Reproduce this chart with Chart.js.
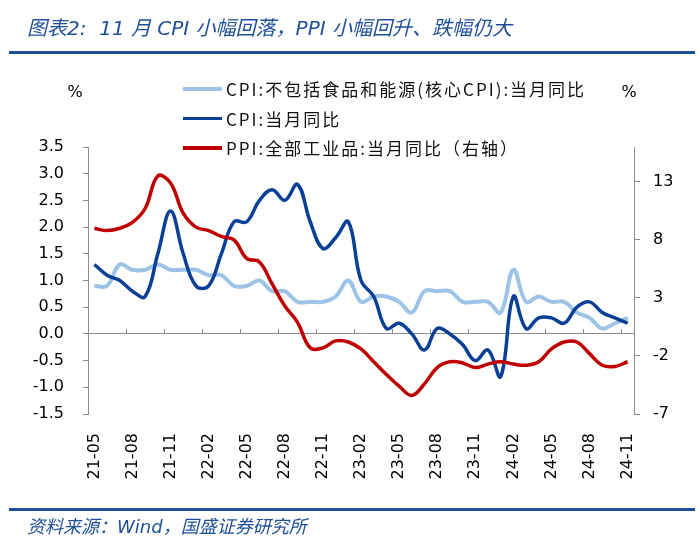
<!DOCTYPE html>
<html>
<head>
<meta charset="utf-8">
<script src="https://cdn.jsdelivr.net/npm/chart.js@4"></script>
<style>
  html, body { margin: 0; padding: 0; background: #fff; }
  #page { position: relative; width: 700px; height: 547px; overflow: hidden; }
  #chart { position: absolute; left: 0; top: 0; }
  .title, .source {
    position: absolute; left: 27px; color: #1f4f99; font-style: italic; white-space: nowrap;
    font-family: "DejaVu Sans", "Noto Sans CJK SC", sans-serif;
  }
  .title { top: 12px; font-size: 20px; }
  .source { top: 512px; font-size: 18px; }
  .rule { position: absolute; left: 9px; width: 686px; height: 3px; background: #1f4f99; }
  .unit { position: absolute; top: 82px; font: 16px "DejaVu Sans", sans-serif; color: #000; transform: translateX(-50%); }
  #legend { position: absolute; left: 183px; top: 74px; }
  .item { display: flex; align-items: center; height: 29.5px; }
  .swatch { width: 39px; height: 3.5px; margin-right: 4px; }
  .label { font: 17px "Noto Sans CJK SC", sans-serif; letter-spacing: 2px; color: #111; white-space: nowrap; }
</style>
</head>
<body>
<div id="page">
  <canvas id="chart" width="700" height="547"></canvas>
  <div class="title">图表2:&nbsp; 11 月 CPI 小幅回落，PPI 小幅回升、跌幅仍大</div>
  <div class="rule" style="top:51px"></div>
  <div class="unit" style="left:75px">%</div>
  <div class="unit" style="left:629px">%</div>
  <div id="legend"></div>
  <div class="rule" style="top:508px"></div>
  <div class="source">资料来源：Wind，国盛证券研究所</div>
</div>
<script>
var months = [
  '21-05', '21-06', '21-07', '21-08', '21-09', '21-10', '21-11', '21-12',
  '22-01', '22-02', '22-03', '22-04', '22-05', '22-06', '22-07', '22-08', '22-09', '22-10', '22-11', '22-12',
  '23-01', '23-02', '23-03', '23-04', '23-05', '23-06', '23-07', '23-08', '23-09', '23-10', '23-11', '23-12',
  '24-01', '24-02', '24-03', '24-04', '24-05', '24-06', '24-07', '24-08', '24-09', '24-10', '24-11'
];
var coreCpi = [
  0.9, 0.9, 1.3, 1.2, 1.2, 1.3, 1.2, 1.2,
  1.2, 1.1, 1.1, 0.9, 0.9, 1.0, 0.8, 0.8, 0.6, 0.6, 0.6, 0.7,
  1.0, 0.6, 0.7, 0.7, 0.6, 0.4, 0.8, 0.8, 0.8, 0.6, 0.6, 0.6,
  0.4, 1.2, 0.6, 0.7, 0.6, 0.6, 0.4, 0.3, 0.1, 0.2, 0.3
];
var cpi = [
  1.3, 1.1, 1.0, 0.8, 0.7, 1.5, 2.3, 1.5,
  0.9, 0.9, 1.5, 2.1, 2.1, 2.5, 2.7, 2.5, 2.8, 2.1, 1.6, 1.8,
  2.1, 1.0, 0.7, 0.1, 0.2, 0.0, -0.3, 0.1, 0.0, -0.2, -0.5, -0.3,
  -0.8, 0.7, 0.1, 0.3, 0.3, 0.2, 0.5, 0.6, 0.4, 0.3, 0.2
];
var ppi = [
  9.0, 8.8, 9.0, 9.5, 10.7, 13.5, 12.9, 10.3,
  9.1, 8.8, 8.3, 8.0, 6.4, 6.1, 4.2, 2.3, 0.9, -1.3, -1.3, -0.7,
  -0.8, -1.4, -2.5, -3.6, -4.6, -5.4, -4.4, -3.0, -2.5, -2.6, -3.0, -2.7,
  -2.5, -2.7, -2.8, -2.5, -1.4, -0.8, -0.8, -1.8, -2.8, -2.9, -2.5
];
var seriesNames = ['CPI:不包括食品和能源(核心CPI):当月同比', 'CPI:当月同比', 'PPI:全部工业品:当月同比（右轴）'];
var seriesColors = ['#9dc3e6', '#0a3f96', '#c00000'];
var rightTicks = [-7, -2, 3, 8, 13];

var axisGray = '#8c8c8c';
var tickFont = { family: '"DejaVu Sans", sans-serif', size: 16 };

// legend is plain html, stacked one entry per row like the source
var legend = document.getElementById('legend');
seriesNames.forEach(function (name, i) {
  var row = document.createElement('div');
  row.className = 'item';
  row.innerHTML = '<span class="swatch" style="background:' + seriesColors[i] + '"></span><span class="label"></span>';
  row.lastChild.textContent = name;
  legend.appendChild(row);
});

function line(i, values, axis, width, order) {
  return {
    label: seriesNames[i], data: values, yAxisID: axis, xAxisID: 'x',
    borderColor: seriesColors[i], backgroundColor: seriesColors[i],
    borderWidth: width, pointRadius: 0, tension: 0.4, fill: false, order: order
  };
}

new Chart(document.getElementById('chart'), {
  type: 'line',
  data: {
    labels: months,
    datasets: [
      line(0, coreCpi, 'y', 4, 3),
      line(1, cpi, 'y', 3.5, 2),
      line(2, ppi, 'y2', 3.5, 1)
    ]
  },
  options: {
    responsive: false,
    animation: false,
    layout: { padding: { top: 147, left: 0, right: 0, bottom: 0 } },
    plugins: { legend: { display: false }, tooltip: { enabled: false } },
    scales: {
      x: {
        type: 'category', position: 'bottom', offset: true,
        grid: { display: false, drawTicks: false }, border: { display: false },
        ticks: {
          autoSkip: false, minRotation: 90, maxRotation: 90, padding: 19, color: '#000', font: tickFont,
          callback: function (v, i) { return i % 3 === 0 ? months[i] : ''; }
        },
        afterFit: function (s) { s.height = 133; }
      },
      // zero line with small upward ticks every third month
      x0: {
        type: 'category', position: { y: 0 }, offset: true,
        ticks: { display: false },
        border: { color: axisGray, width: 1 },
        grid: {
          offset: true, drawOnChartArea: false, drawTicks: true, tickLength: -5,
          color: function (c) { return c.index > 0 && c.index % 3 === 0 ? axisGray : 'rgba(0,0,0,0)'; }
        }
      },
      y: {
        position: 'left', min: -1.5, max: 3.5,
        ticks: { stepSize: 0.5, padding: 19, color: '#000', font: tickFont,
          callback: function (v) { return v.toFixed(1); } },
        grid: { drawOnChartArea: false, tickLength: 5, color: axisGray },
        border: { color: axisGray },
        afterFit: function (s) { s.width = 88; }
      },
      y2: {
        position: 'right', min: -7, max: 16,
        afterBuildTicks: function (s) { s.ticks = rightTicks.map(function (v) { return { value: v }; }); },
        ticks: { padding: 13, color: '#000', font: tickFont },
        grid: { drawOnChartArea: false, tickLength: 6, color: axisGray },
        border: { color: axisGray },
        afterFit: function (s) { s.width = 66; }
      }
    }
  }
});
</script>
</body>
</html>
